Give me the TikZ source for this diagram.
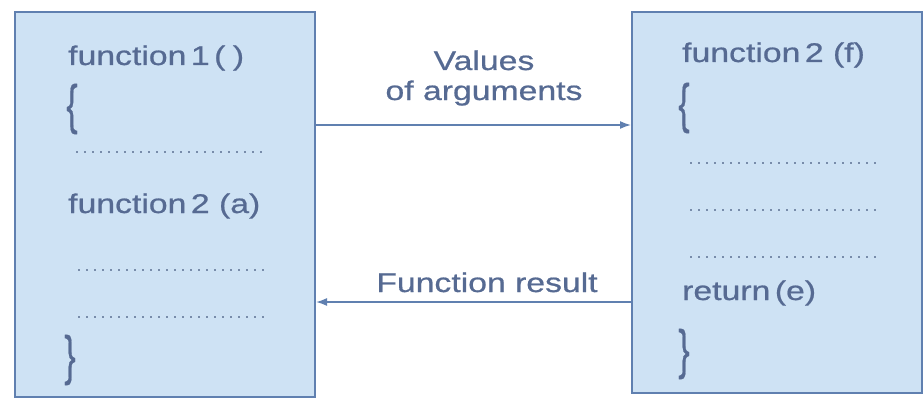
\documentclass[tikz,border=0pt]{standalone}
\usepackage{fontspec}
\newfontfamily\labelfont[FakeStretch=1.25,FakeBold=0.7]{Liberation Sans}
\usetikzlibrary{arrows.meta,positioning}
\definecolor{frame}{RGB}{96,128,176}
\definecolor{paper}{RGB}{206,226,244}
\definecolor{ink}{RGB}{86,106,146}
\definecolor{dots}{RGB}{120,140,170}

\tikzset{
  fnbox/.style={draw=frame,line width=2pt,fill=paper,inner sep=0pt},
  code/.style={anchor=base west,text=ink,inner sep=0pt},
  dotline/.style={dots,line width=1.5pt,dash pattern=on 1.5pt off 6.5pt},
  flow/.style={frame,line width=1.6pt,-{Latex[length=11pt,width=8pt]}}
}

\begin{document}
\begin{tikzpicture}[x=1pt,y=-1pt,font=\labelfont\fontsize{27}{30}\selectfont]
\useasboundingbox (0,0) rectangle (923,404);
% calling function
\node[fnbox,minimum width=300pt,minimum height=385pt] (caller) at (165,204.5) {};
% called function
\node[fnbox,minimum width=290pt,minimum height=381pt] (callee) at (777,202.5) {};

\node[code] (f1) at (68,65) {function\,1\,(\;)};
\node[text=ink,inner sep=0pt] (f1open) at (72,109) {\scalebox{1}[2]{\{}};
\draw[dotline] (76,152)--(264,152);
\node[code] (f1call) at (68,213) {function\,2 (a)};
\draw[dotline] (78,270)--(264,270);
\draw[dotline] (78,317)--(264,317);
\node[text=ink,inner sep=0pt] (f1close) at (70,360) {\scalebox{1}[2]{\}}};

\node[code] (f2) at (682,62) {function\,2 (f)};
\node[text=ink,inner sep=0pt] (f2open) at (684,108) {\scalebox{1}[2]{\{}};
\foreach \y in {163,210,257} \draw[dotline] (690,\y)--(880,\y);
\node[code] (f2ret) at (682,300) {return\,(e)};
\node[text=ink,inner sep=0pt] (f2close) at (684,354) {\scalebox{1}[2]{\}}};

% passing values and result
\draw[flow] (caller.east |- 0,125) -- (callee.west |- 0,125);
\draw[flow] (callee.west |- 0,302) -- (caller.east |- 0,302);
\node[anchor=base,text=ink,inner sep=0pt] (vals) at (484,70) {Values};
\node[anchor=base,text=ink,inner sep=0pt] (args) at (484,100) {of arguments};
\node[anchor=base,text=ink,inner sep=0pt] (res) at (487,292) {Function result};
\end{tikzpicture}
\end{document}
